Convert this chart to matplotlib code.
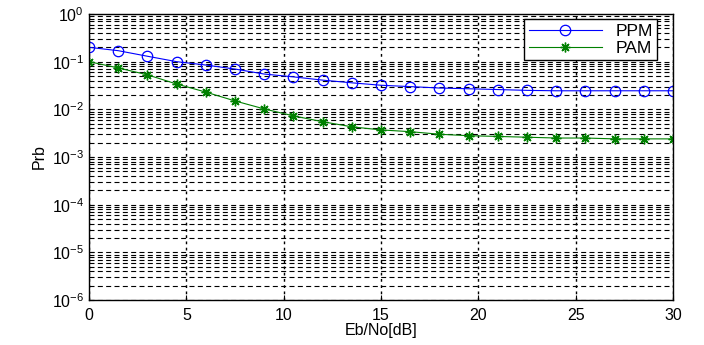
import matplotlib
matplotlib.use('Agg')
import matplotlib.pyplot as plt
from matplotlib.ticker import FixedLocator, NullFormatter

plt.rcParams['font.family'] = ['Liberation Sans', 'DejaVu Sans']

# Eb/No 값 (dB)
ebno = [0, 1.5, 3, 4.5, 6, 7.5, 9, 10.5, 12, 13.5, 15, 16.5, 18, 19.5, 21, 22.5, 24, 25.5, 27, 28.5, 30]

# 오류 확률
ppm = [0.20, 0.17, 0.13, 0.10, 0.085, 0.070, 0.055, 0.048, 0.041, 0.036, 0.032,
       0.030, 0.028, 0.027, 0.026, 0.025, 0.0245, 0.0245, 0.0245, 0.0245, 0.0245]
pam = [0.10, 0.074, 0.053, 0.034, 0.023, 0.015, 0.0102, 0.0073, 0.0055, 0.0043, 0.0037,
       0.0034, 0.0030, 0.0028, 0.0027, 0.0026, 0.0025, 0.0025, 0.0024, 0.0024, 0.0024]

fig = plt.figure(figsize=(7.04, 3.45), dpi=100)
ax = fig.add_axes([89/704, 45/345, 584/704, 286/345])

ax.semilogy(ebno, ppm, '-o', color='blue', lw=0.8, ms=7.5, mfc='none', mew=0.9, label='PPM')
ax.semilogy(ebno, pam, '-', marker=(8, 2, 0), color=(0, 0.5, 0), lw=0.8, ms=7, mew=1.0, label='PAM')

ax.set_xlim(0, 30)
ax.set_ylim(1e-6, 1)
ax.set_xticks([0, 5, 10, 15, 20, 25, 30])
decades = [10.0 ** e for e in range(-6, 1)]
ax.yaxis.set_major_locator(FixedLocator(decades))
ax.yaxis.set_minor_locator(FixedLocator([m * d for d in decades[:-1] for m in range(2, 10)]))
ax.yaxis.set_minor_formatter(NullFormatter())

ax.grid(True, which='major', axis='x', color='black', ls=(0, (2, 2.5)), lw=1.0)
ax.grid(True, which='both', axis='y', color='black', ls=(0, (4.5, 3)), lw=0.8)

ax.tick_params(which='both', direction='in', labelsize=11.5)
ax.tick_params(axis='x', pad=6)
ax.tick_params(which='minor', length=2)
for s in ax.spines.values():
    s.set_linewidth(1.0)

ax.set_xlabel('Eb/No[dB]', fontsize=11.5, labelpad=0)
ax.set_ylabel('Prb', fontsize=11.5)

leg = ax.legend(loc='upper right', fontsize=12.5, fancybox=False, framealpha=1,
                edgecolor='black', handlelength=4.2, borderaxespad=0.3,
                labelspacing=0.1, borderpad=0.25, bbox_to_anchor=(0.982, 1))
leg.get_frame().set_linewidth(1.0)

fig.savefig('out.png', dpi=100)
